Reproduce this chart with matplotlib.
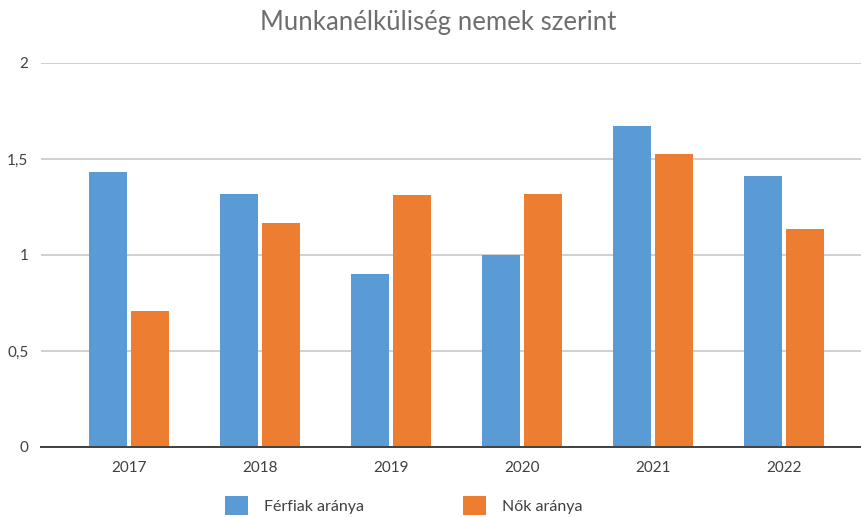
import numpy as np
import matplotlib
matplotlib.use('Agg')
import matplotlib.pyplot as plt

years = ['2017', '2018', '2019', '2020', '2021', '2022']
ferfiak = [1.43, 1.32, 0.90, 1.00, 1.67, 1.41]
nok = [0.71, 1.165, 1.31, 1.32, 1.525, 1.135]
yticks = [0, 0.5, 1, 1.5, 2]
ytick_labels = ['0', '0,5', '1', '1,5', '2']

plt.rcParams['font.family'] = ['Lato', 'DejaVu Sans']

fig = plt.figure(figsize=(8.62, 5.17), dpi=100)
ax = fig.add_axes([41/862, 1 - 447/517, 1 - 41/862, (447 - 63)/517])

x = np.arange(len(years))
w = 0.29
ax.bar(x - 0.157, ferfiak, w, color='#5B9BD5', label='Férfiak aránya', zorder=3)
ax.bar(x + 0.157, nok, w, color='#ED7D31', label='Nők aránya', zorder=3)

ax.set_xlim(-0.672, 5.595)
ax.set_ylim(0, 2)
ax.set_yticks(yticks)
ax.set_yticklabels(ytick_labels)
ax.set_xticks(x)
ax.set_xticklabels(years)
ax.grid(axis='y', color='#D0D0D0', linewidth=1.4, zorder=0)
for s in ['top', 'right', 'left']:
    ax.spines[s].set_visible(False)
ax.spines['bottom'].set_color('#404040')
ax.spines['bottom'].set_linewidth(1.4)
ax.spines['bottom'].set_zorder(4)
ax.tick_params(axis='both', length=0, labelsize=11, colors='#404040')
ax.tick_params(axis='y', pad=9)
ax.tick_params(axis='x', pad=10)

fig.text(0.508, 0.957, 'Munkanélküliség nemek szerint', ha='center', va='center',
         fontsize=18.5, color='#6E6E6E')

fig.legend(loc='center', bbox_to_anchor=(0.468, 0.022), ncol=2, frameon=False,
           fontsize=11.5, handlelength=1.44, handleheight=1.44, handletextpad=1.0,
           columnspacing=6.2, labelcolor='#404040')

fig.savefig('out.png', dpi=100)
